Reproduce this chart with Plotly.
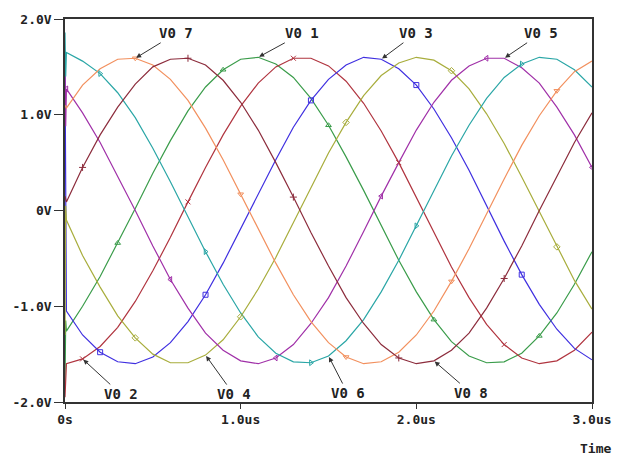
import plotly.graph_objects as go

# sample times (us)
t_us = [0, 0.004, 0.008, 0.1, 0.2, 0.3, 0.4, 0.5, 0.6, 0.7, 0.8, 0.9, 1.0,
        1.1, 1.2, 1.3, 1.4, 1.5, 1.6, 1.7, 1.8, 1.9, 2.0,
        2.1, 2.2, 2.3, 2.4, 2.5, 2.6, 2.7, 2.8, 2.9, 3.0]

v01 = [-1.80, -1.15, -1.26,
       -1.00, -0.69, -0.34, 0.02, 0.39, 0.73, 1.04, 1.29, 1.47, 1.58,
       1.60, 1.53, 1.39, 1.17, 0.89, 0.56, 0.21, -0.16, -0.52, -0.85,
       -1.14, -1.37, -1.52, -1.59, -1.58, -1.49, -1.31, -1.07, -0.77, -0.43]
v02 = [-1.95, -1.65, -1.60,
       -1.55, -1.42, -1.22, -0.95, -0.63, -0.28, 0.09, 0.45, 0.79, 1.09,
       1.33, 1.50, 1.59, 1.59, 1.51, 1.35, 1.12, 0.83, 0.50, 0.14,
       -0.23, -0.59, -0.91, -1.19, -1.40, -1.54, -1.60, -1.57, -1.46, -1.27]
v03 = [1.55, 0.30, -1.05,
       -1.30, -1.48, -1.58, -1.60, -1.53, -1.38, -1.16, -0.88, -0.55, -0.19,
       0.18, 0.53, 0.87, 1.15, 1.37, 1.52, 1.60, 1.58, 1.48, 1.31,
       1.06, 0.76, 0.42, 0.05, -0.32, -0.67, -0.98, -1.24, -1.44, -1.56]
v04 = [-1.30, 0.05, -0.10,
       -0.47, -0.80, -1.10, -1.33, -1.50, -1.59, -1.59, -1.51, -1.35, -1.11,
       -0.82, -0.49, -0.13, 0.24, 0.60, 0.92, 1.20, 1.41, 1.54, 1.60,
       1.57, 1.46, 1.27, 1.01, 0.70, 0.35, -0.01, -0.38, -0.73, -1.03]
v05 = [1.50, 0.88, 1.27,
       1.02, 0.71, 0.36, 0.00, -0.37, -0.72, -1.02, -1.28, -1.46, -1.57,
       -1.60, -1.54, -1.40, -1.18, -0.91, -0.58, -0.22, 0.15, 0.50, 0.84,
       1.13, 1.36, 1.51, 1.59, 1.59, 1.49, 1.33, 1.08, 0.79, 0.45]
v06 = [1.86, 1.40, 1.65,
       1.56, 1.43, 1.23, 0.97, 0.65, 0.30, -0.07, -0.43, -0.77, -1.07,
       -1.32, -1.49, -1.58, -1.59, -1.52, -1.36, -1.14, -0.85, -0.52, -0.16,
       0.21, 0.57, 0.89, 1.17, 1.39, 1.53, 1.60, 1.58, 1.47, 1.29]
v07 = [1.10, 1.08, 1.07,
       1.31, 1.48, 1.58, 1.59, 1.52, 1.37, 1.15, 0.86, 0.53, 0.17,
       -0.20, -0.55, -0.88, -1.16, -1.38, -1.53, -1.60, -1.58, -1.48, -1.30,
       -1.05, -0.74, -0.40, -0.03, 0.33, 0.68, 0.99, 1.25, 1.45, 1.56]
v08 = [0.15, 0.10, 0.09,
       0.45, 0.79, 1.08, 1.32, 1.50, 1.58, 1.59, 1.52, 1.36, 1.13,
       0.84, 0.50, 0.14, -0.23, -0.58, -0.91, -1.18, -1.40, -1.54, -1.60,
       -1.57, -1.46, -1.28, -1.02, -0.71, -0.37, 0.00, 0.36, 0.71, 1.02]

names = ["V0 1", "V0 2", "V0 3", "V0 4", "V0 5", "V0 6", "V0 7", "V0 8"]
series = [v01, v02, v03, v04, v05, v06, v07, v08]

x_tickvals = [0, 1, 2, 3]
x_ticktext = ["0s", "1.0us", "2.0us", "3.0us"]
y_tickvals = [-2, -1, 0, 1, 2]
y_ticktext = ["-2.0V", "-1.0V", "0V", "1.0V", "2.0V"]

colors = ["#3a9c4a", "#b0343f", "#3f2fe0", "#a8ad3c",
          "#a030a8", "#2aa6a6", "#f2905e", "#8c2c3c"]
symbols = ["triangle-up-open", "x-thin", "square-open", "diamond-open",
           "triangle-left-open", "triangle-right-open", "triangle-down-open", "cross-thin"]
marker_offsets = [5, 3, 4, 6, 2, 4, 6, 3]

# label anchors: index into sample arrays, and text offset in pixels
label_idx = [13, 3, 20, 10, 27, 17, 6, 23]
label_ax = [44, 38, 35, 28, 37, 19, 41, 37]
label_ay = [-24, 35, -26, 39, -25, 37, -25, 32]

fig = go.Figure()
for name, vals, col in zip(names, series, colors):
    fig.add_trace(go.Scatter(x=t_us, y=vals, mode="lines", name=name,
                             line=dict(color=col, width=1.2), showlegend=False))

for vals, col, sym, off in zip(series, colors, symbols, marker_offsets):
    idx = list(range(off, len(t_us), 6))
    fig.add_trace(go.Scatter(x=[t_us[i] for i in idx], y=[vals[i] for i in idx],
                             mode="markers", showlegend=False, hoverinfo="skip",
                             marker=dict(symbol=sym, size=5, color=col,
                                         line=dict(color=col, width=1))))

font_lbl = dict(family="DejaVu Sans Mono", size=14, color="#222222", weight="bold")
font_tick = dict(family="DejaVu Sans Mono", size=13, color="#222222", weight="bold")

for name, vals, i, ax, ay in zip(names, series, label_idx, label_ax, label_ay):
    fig.add_annotation(x=t_us[i], y=vals[i], xref="x", yref="y", text=name,
                       showarrow=True, ax=ax, ay=ay, arrowhead=2, arrowsize=1,
                       arrowwidth=1, arrowcolor="#333333", standoff=1,
                       font=font_lbl)

fig.add_annotation(x=1.006, y=-0.122, xref="paper", yref="paper", text="Time",
                   showarrow=False, xanchor="center", yanchor="middle",
                   font=font_tick)

fig.update_layout(
    width=624, height=457,
    margin=dict(l=65, r=26, t=14, b=55),
    paper_bgcolor="white", plot_bgcolor="white",
    font=font_tick,
)
fig.update_xaxes(range=[0, 3], tickvals=x_tickvals, ticktext=x_ticktext,
                 showgrid=False, zeroline=False, showline=True, linecolor="#333333",
                 linewidth=1.5, mirror=True, ticks="outside", ticklen=5,
                 tickcolor="#333333", tickfont=font_tick)
fig.update_yaxes(range=[-2, 2], tickvals=y_tickvals, ticktext=y_ticktext,
                 showgrid=False, zeroline=False, showline=True, linecolor="#333333",
                 linewidth=1.5, mirror=True, ticks="outside", ticklen=9,
                 tickcolor="#333333", tickfont=font_tick)

fig.write_html("out.html", config={"displayModeBar": False},
               post_script="document.body.style.margin='0px';")
